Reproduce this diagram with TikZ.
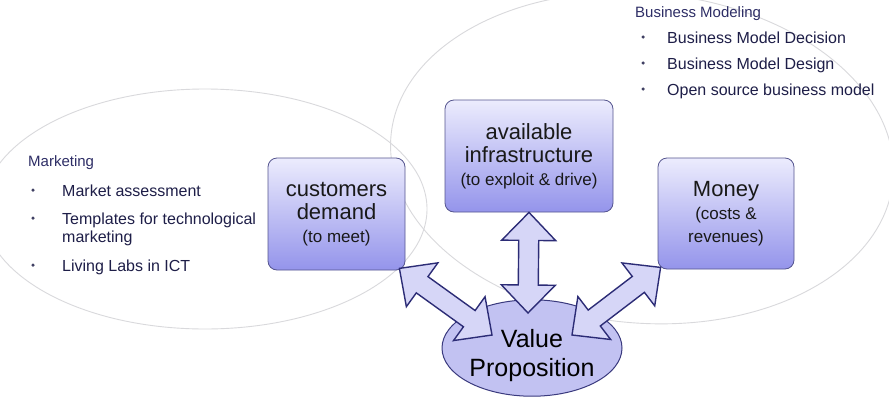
\documentclass[tikz,border=0pt]{standalone}
\usepackage{fontspec}
\setmainfont{Liberation Sans}
\usepackage{tikz}
\usetikzlibrary{calc,positioning,shapes.geometric}
\definecolor{areagray}{HTML}{D9D9DC}
\definecolor{boxtop}{HTML}{ECECFD}
\definecolor{boxbottom}{HTML}{9494EB}
\definecolor{boxline}{HTML}{55558F}
\definecolor{valuefill}{HTML}{C2C2F2}
\definecolor{valueline}{HTML}{3A3A7E}
\definecolor{arrowfill}{HTML}{D6D6F7}
\definecolor{arrowline}{HTML}{2C2C76}
\definecolor{listtext}{HTML}{1E1E48}
\definecolor{headtext}{HTML}{2E2E66}
\newcommand{\smalltext}{\fontsize{17pt}{20pt}\selectfont}
\tikzset{%
	area/.style      = {draw=areagray, line width=0.9pt},
	block/.style     = {draw=boxline, line width=0.8pt, rounded corners=9pt, top color=boxtop, bottom color=boxbottom, align=center, text=black!90, font=\fontsize{22pt}{23pt}\selectfont},
	valuenode/.style = {draw=valueline, line width=1pt, ellipse, fill=valuefill, inner sep=0pt, minimum width=180pt, minimum height=94pt, align=center, font=\fontsize{25pt}{29pt}\selectfont},
	listhead/.style  = {anchor=base west, inner sep=0pt, text=headtext, font=\fontsize{15pt}{18pt}\selectfont},
	listitem/.style  = {anchor=base west, inner sep=0pt, text=listtext, font=\fontsize{16pt}{18pt}\selectfont, align=left},
	dot/.style       = {circle, fill=listtext!85, inner sep=0pt, minimum size=3.5pt},
	blockarrow/.style= {draw=arrowline, fill=arrowfill, line width=1.4pt, line join=miter},
}
% two-headed block arrow between two points
\newcommand{\dblarrow}[2]{%
	\draw[blockarrow] (#1)
		-- ($(#1)!28pt!(#2)!27pt!90:(#2)$) -- ($(#1)!28pt!(#2)!10pt!90:(#2)$)
		-- ($(#2)!28pt!(#1)!10pt!-90:(#1)$) -- ($(#2)!28pt!(#1)!27pt!-90:(#1)$)
		-- (#2)
		-- ($(#2)!28pt!(#1)!27pt!90:(#1)$) -- ($(#2)!28pt!(#1)!10pt!90:(#1)$)
		-- ($(#1)!28pt!(#2)!10pt!-90:(#2)$) -- ($(#1)!28pt!(#2)!27pt!-90:(#2)$)
		-- cycle;}

\begin{document}
\begin{tikzpicture}[x=1pt,y=-1pt]
	\fill[white] (0,0) rectangle (889,405);
	\useasboundingbox (0,0) rectangle (889,405);

	% the two areas
	\draw[area] (205,209) ellipse [x radius=222, y radius=120];
	\draw[area, rotate around={-5:(642,158)}] (642,158) ellipse [x radius=252, y radius=165];

	% Marketing
	\node[listhead] (mkt) at (28,166) {Marketing};
	\node[listitem] (mkt1) at (62,196) {Market assessment};
	\node[listitem] (mkt2) at (62,242) {Templates for technological\\marketing};
	\node[listitem] (mkt3) at (62,271) {Living Labs in ICT};
	\foreach \y in {190,218,265}
		\node[dot] at (33,\y) {};

	% Business Modeling
	\node[listhead] (bm) at (635,17) {Business Modeling};
	\node[listitem] (bm1) at (667,43) {Business Model Decision};
	\node[listitem] (bm2) at (667,69) {Business Model Design};
	\node[listitem] (bm3) at (667,95) {Open source business model};
	\foreach \y in {37,63,89}
		\node[dot] at (643,\y) {};

	% the four blocks
	\node[block, minimum width=137pt, minimum height=112pt] (customers) at (336.5,214) {customers\\demand\\\smalltext(to meet)};
	\node[block, minimum width=168pt, minimum height=112pt] (infra) at (529,156) {available\\infrastructure\\\smalltext(to exploit \& drive)};
	\node[block, minimum width=136pt, minimum height=111pt] (money) at (726,213.5) {Money\\\smalltext(costs \&\\\smalltext revenues)};
	\node[valuenode] (value) at (532,348) {\rule{0pt}{34pt}Value\\Proposition};

	% arrow ends
	\coordinate (customerstip) at ($(customers.south east)+(-6,-2)$);
	\coordinate (infratip) at (infra.south);
	\coordinate (moneytip) at ($(money.south west)+(3,-2)$);
	\coordinate (valueleft) at ($(value.center)+(-40,-13)$);
	\coordinate (valuetop) at ($(value.center)+(-4,-35)$);
	\coordinate (valueright) at ($(value.center)+(40,-13)$);

	\dblarrow{customerstip}{valueleft}
	\dblarrow{infratip}{valuetop}
	\dblarrow{moneytip}{valueright}
\end{tikzpicture}
\end{document}
